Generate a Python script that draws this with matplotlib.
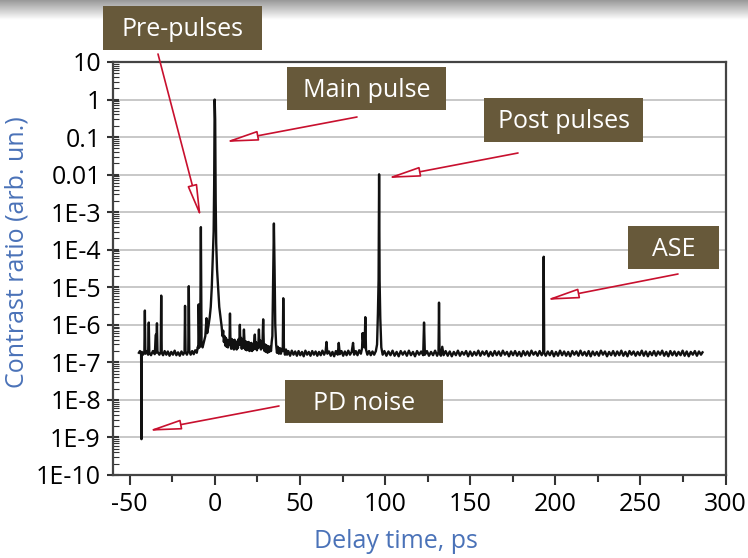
import numpy as np
import matplotlib.pyplot as plt
from matplotlib.patches import Rectangle
from matplotlib.ticker import LogLocator, MultipleLocator, NullFormatter

plt.rcParams['font.family'] = ['Open Sans', 'DejaVu Sans']
plt.rcParams['axes.unicode_minus'] = False

# --- donnees (delai en ps, contraste) ---
trace_pre = [
    (-44.6, 1.8e-7), (-44.0, 2.0e-7), (-43.3, 1.75e-7), (-43.1, 9e-10), (-42.9, 1.9e-7),
    (-42.2, 1.6e-7), (-41.4, 1.95e-7), (-41.1, 2.4e-6), (-40.8, 1.7e-7), (-40.0, 2.0e-7),
    (-39.2, 1.6e-7), (-38.8, 1.15e-6), (-38.5, 1.85e-7), (-37.5, 1.55e-7), (-36.4, 2.0e-7),
    (-35.3, 1.65e-7), (-34.6, 5.5e-7), (-34.4, 1.8e-7), (-34.0, 1.1e-6), (-33.7, 1.95e-7),
    (-32.6, 1.6e-7), (-31.8, 1.9e-7), (-31.5, 6e-6), (-31.2, 1.8e-7), (-30.4, 1.55e-7),
    (-29.5, 2.0e-7), (-28.5, 1.6e-7), (-27.6, 1.95e-7), (-26.6, 1.5e-7), (-25.6, 1.9e-7),
    (-24.6, 1.6e-7), (-23.6, 2.05e-7), (-22.6, 1.55e-7), (-21.6, 1.85e-7), (-20.6, 1.5e-7),
    (-19.6, 1.95e-7), (-18.6, 1.6e-7), (-17.8, 1.9e-7), (-17.5, 3.2e-6), (-17.2, 1.9e-7),
    (-16.4, 1.6e-7), (-15.6, 2.0e-7), (-15.3, 1.07e-5), (-15.0, 2.0e-7), (-14.2, 1.6e-7),
    (-13.3, 2.0e-7), (-12.4, 1.65e-7), (-11.5, 2.1e-7), (-10.6, 1.8e-7), (-10.0, 2.6e-7),
    (-9.7, 2.4e-7), (-9.5, 3.5e-6), (-9.1, 2.5e-7), (-8.6, 2.8e-7), (-8.2, 4e-4),
    (-7.8, 3.0e-7), (-7.2, 2.5e-7), (-6.4, 3.5e-7), (-5.6, 5e-7),
]

trace_main = [
    (-4.9, 1.5e-6), (-4.5, 6e-7), (-3.8, 9e-7), (-3.0, 1.6e-6), (-2.4, 3e-6),
    (-1.8, 1e-5), (-1.2, 6e-5), (-0.7, 3e-4), (-0.4, 5e-3), (-0.1, 1.0),
    (0.2, 0.3), (0.5, 2e-3), (0.8, 1.5e-4), (1.3, 3e-5), (1.9, 1e-5),
    (2.6, 3e-6), (3.3, 1.6e-6), (4.0, 9e-7), (4.5, 5e-7), (4.9, 7e-7),
    (5.3, 3.5e-7), (5.7, 5e-7), (6.1, 2.8e-7), (6.5, 4.5e-7), (6.9, 2.6e-7),
    (7.3, 4e-7), (7.7, 2.5e-7), (8.1, 3.8e-7), (8.6, 3e-7), (8.9, 2e-6),
    (9.2, 3.2e-7), (9.6, 2.3e-7), (10.0, 4.2e-7), (10.4, 2.4e-7), (10.8, 3.8e-7),
    (11.2, 2.2e-7), (11.6, 4e-7), (12.0, 2.5e-7), (12.4, 3.6e-7), (12.8, 2.2e-7),
    (13.2, 3.5e-7), (13.6, 2.4e-7), (14.0, 4.2e-7), (14.4, 3e-7), (14.7, 1e-6),
    (15.0, 3e-7), (15.4, 4.5e-7), (15.8, 2.3e-7), (16.2, 3.8e-7), (16.6, 2.4e-7),
    (17.1, 7.5e-7), (17.5, 3e-7), (17.9, 2.2e-7), (18.3, 3.6e-7), (18.7, 2.1e-7),
    (19.1, 3.4e-7), (19.5, 2.2e-7), (19.9, 3.5e-7), (20.3, 2.0e-7), (20.7, 3.2e-7),
    (21.1, 2.1e-7), (21.5, 3.3e-7), (21.9, 2.0e-7), (22.3, 3e-7), (22.7, 2.2e-7),
    (23.1, 3.6e-7), (23.5, 5.5e-7), (23.9, 2.3e-7), (24.3, 3.4e-7), (24.7, 2.1e-7),
    (25.1, 3.2e-7), (25.5, 2.4e-7), (25.9, 7.5e-7), (26.3, 2.6e-7), (26.7, 3.8e-7),
    (27.1, 2.2e-7), (27.5, 3.4e-7), (27.9, 2.4e-7), (28.4, 1.4e-6), (28.8, 2.6e-7),
    (29.2, 2.0e-7), (29.6, 3e-7), (30.0, 1.9e-7), (30.5, 2.8e-7), (31.0, 1.8e-7),
    (31.5, 2.7e-7), (32.0, 1.9e-7), (32.5, 2.6e-7), (33.0, 2.0e-7), (33.4, 3.5e-7),
    (33.8, 5e-7), (34.3, 2e-5), (34.7, 5e-4), (35.1, 3e-5), (35.5, 1e-6),
    (36.0, 3e-7), (36.5, 1.8e-7), (37.0, 2.6e-7), (37.6, 1.7e-7), (38.2, 2.4e-7),
    (38.8, 1.7e-7), (39.4, 2.3e-7), (39.9, 2.0e-7), (40.2, 5.1e-6), (40.6, 2.3e-7),
    (41.2, 1.6e-7), (41.8, 2.2e-7), (42.4, 1.6e-7),
]

trace_mid = [
    (43.2, 2.0e-7), (44.2, 1.5e-7), (45.2, 2.05e-7), (46.2, 1.6e-7), (47.2, 1.95e-7),
    (48.2, 1.5e-7), (49.2, 2.0e-7), (50.2, 1.55e-7), (51.2, 1.9e-7), (52.2, 1.45e-7),
    (53.2, 2.05e-7), (54.2, 1.6e-7), (55.2, 1.9e-7), (56.2, 1.5e-7), (57.2, 2.0e-7),
    (58.2, 1.6e-7), (59.2, 1.95e-7), (60.2, 1.5e-7), (61.2, 1.9e-7), (62.2, 1.55e-7),
    (63.2, 2.05e-7), (64.2, 1.6e-7), (65.1, 2.0e-7), (65.6, 3.5e-7), (66.1, 1.7e-7),
    (67.1, 1.95e-7), (68.1, 1.5e-7), (69.1, 1.9e-7), (70.1, 1.45e-7), (71.1, 2.0e-7),
    (72.2, 1.6e-7), (72.8, 3.3e-7), (73.4, 1.65e-7), (74.4, 2.0e-7), (75.4, 1.5e-7),
    (76.4, 1.95e-7), (77.4, 1.55e-7), (78.4, 2.05e-7), (79.4, 1.6e-7), (80.4, 1.9e-7),
    (81.2, 3.3e-7), (81.8, 1.6e-7), (82.8, 2.0e-7), (83.8, 1.55e-7), (84.8, 2.1e-7),
    (85.8, 1.7e-7), (86.5, 2.4e-7), (86.8, 6e-7), (87.1, 4e-7), (87.6, 6e-7),
    (88.0, 2.5e-7), (88.4, 1.6e-6), (88.8, 2.2e-7), (89.6, 1.6e-7), (90.6, 2.0e-7),
    (91.6, 1.55e-7), (92.6, 1.95e-7), (93.6, 1.6e-7), (94.6, 2.0e-7), (95.3, 3e-7),
    (95.8, 2e-6), (96.2, 1.6e-5), (96.5, 1.02e-2), (96.8, 1.5e-5), (97.2, 1.5e-6),
    (97.8, 2.5e-7), (98.6, 1.6e-7),
]

trace_tail = [
    (99.6, 2.0e-7), (100.8, 1.5e-7), (102.0, 1.95e-7), (103.2, 1.55e-7), (104.4, 2.05e-7),
    (105.6, 1.5e-7), (106.8, 1.9e-7), (108.0, 1.45e-7), (109.2, 2.0e-7), (110.4, 1.6e-7),
    (111.6, 1.95e-7), (112.8, 1.5e-7), (114.0, 2.05e-7), (115.2, 1.55e-7), (116.4, 1.9e-7),
    (117.6, 1.45e-7), (118.8, 2.0e-7), (120.0, 1.6e-7), (121.2, 1.95e-7), (122.4, 1.55e-7),
    (122.9, 1.15e-6), (123.4, 1.6e-7), (124.6, 2.0e-7), (125.8, 1.5e-7), (127.0, 1.9e-7),
    (128.2, 1.55e-7), (129.4, 2.05e-7), (130.6, 1.5e-7), (131.4, 1.9e-7), (131.7, 3.9e-6),
    (132.0, 1.8e-7), (132.8, 1.5e-7), (133.6, 2.6e-7), (134.4, 1.55e-7), (135.6, 2.0e-7),
    (136.8, 1.5e-7), (138.0, 1.95e-7), (139.2, 1.45e-7), (140.4, 1.9e-7), (141.6, 1.55e-7),
    (142.8, 2.05e-7), (144.0, 1.5e-7), (145.2, 1.9e-7), (146.4, 1.6e-7), (147.6, 2.0e-7),
    (148.8, 1.45e-7), (150.0, 1.95e-7), (151.2, 1.5e-7), (152.4, 1.9e-7), (153.6, 1.55e-7),
    (154.8, 2.05e-7), (156.0, 1.5e-7), (157.2, 1.95e-7), (158.4, 1.6e-7), (159.6, 2.0e-7),
    (160.8, 1.45e-7), (162.0, 1.9e-7), (163.2, 1.5e-7), (164.4, 2.0e-7), (165.6, 1.55e-7),
    (166.8, 1.95e-7), (168.0, 1.5e-7), (169.2, 2.05e-7), (170.4, 1.6e-7), (171.6, 1.9e-7),
    (172.8, 1.45e-7), (174.0, 1.95e-7), (175.2, 1.55e-7), (176.4, 2.0e-7), (177.6, 1.5e-7),
    (178.8, 1.9e-7), (180.0, 1.45e-7), (181.2, 2.0e-7), (182.4, 1.55e-7), (183.6, 1.95e-7),
    (184.8, 1.5e-7), (186.0, 2.05e-7), (187.2, 1.6e-7), (188.4, 1.9e-7), (189.6, 1.5e-7),
    (190.8, 2.0e-7), (192.0, 1.55e-7), (192.9, 1.9e-7), (193.2, 6.5e-5), (193.5, 1.8e-7),
    (194.4, 1.5e-7), (195.6, 1.95e-7), (196.8, 1.55e-7), (198.0, 2.0e-7), (199.2, 1.45e-7),
    (200.4, 1.9e-7), (201.6, 1.5e-7), (202.8, 2.05e-7), (204.0, 1.55e-7), (205.2, 1.95e-7),
    (206.4, 1.5e-7), (207.6, 1.9e-7), (208.8, 1.45e-7), (210.0, 2.0e-7), (211.2, 1.6e-7),
    (212.4, 1.95e-7), (213.6, 1.5e-7), (214.8, 2.05e-7), (216.0, 1.55e-7), (217.2, 1.9e-7),
    (218.4, 1.5e-7), (219.6, 2.0e-7), (220.8, 1.45e-7), (222.0, 1.95e-7), (223.2, 1.55e-7),
    (224.4, 1.9e-7), (225.6, 1.5e-7), (226.8, 2.05e-7), (228.0, 1.6e-7), (229.2, 1.95e-7),
    (230.4, 1.45e-7), (231.6, 1.9e-7), (232.8, 1.55e-7), (234.0, 2.0e-7), (235.2, 1.5e-7),
    (236.4, 1.95e-7), (237.6, 1.55e-7), (238.8, 2.05e-7), (240.0, 1.5e-7), (241.2, 1.9e-7),
    (242.4, 1.45e-7), (243.6, 2.0e-7), (244.8, 1.6e-7), (246.0, 1.95e-7), (247.2, 1.5e-7),
    (248.4, 1.9e-7), (249.6, 1.55e-7), (250.8, 2.05e-7), (252.0, 1.5e-7), (253.2, 1.95e-7),
    (254.4, 1.45e-7), (255.6, 1.9e-7), (256.8, 1.55e-7), (258.0, 2.0e-7), (259.2, 1.5e-7),
    (260.4, 1.95e-7), (261.6, 1.6e-7), (262.8, 2.05e-7), (264.0, 1.5e-7), (265.2, 1.9e-7),
    (266.4, 1.45e-7), (267.6, 2.0e-7), (268.8, 1.55e-7), (270.0, 1.95e-7), (271.2, 1.5e-7),
    (272.4, 1.9e-7), (273.6, 1.55e-7), (274.8, 2.05e-7), (276.0, 1.5e-7), (277.2, 1.95e-7),
    (278.4, 1.45e-7), (279.6, 1.9e-7), (280.8, 1.6e-7), (282.0, 2.0e-7), (283.2, 1.5e-7),
    (284.4, 1.95e-7), (285.6, 1.6e-7), (286.5, 1.85e-7),
]

x_ticks = [-50, 0, 50, 100, 150, 200, 250, 300]
x_tick_labels = ['-50', '0', '50', '100', '150', '200', '250', '300']
y_ticks = [1e1, 1e0, 1e-1, 1e-2, 1e-3, 1e-4, 1e-5, 1e-6, 1e-7, 1e-8, 1e-9, 1e-10]
y_tick_labels = ['10', '1', '0.1', '0.01', '1E-3', '1E-4', '1E-5', '1E-6',
                 '1E-7', '1E-8', '1E-9', '1E-10']

# etiquettes : texte, boite (x0, y0, x1, y1 en px depuis le haut), queue de fleche (px), pointe (donnees)
labels = ['Pre-pulses', 'Main pulse', 'Post pulses', 'ASE', 'PD noise']
boites = [(103, 6, 262, 50), (287, 67, 446, 110), (484, 98, 643, 142),
          (628, 226, 719, 269), (285, 380, 443, 423)]
queues = [(158, 54), (357, 117), (518, 153), (678, 274), (279, 406)]
pointes = [(-8.2, 7e-4), (5.9, 0.074), (101.1, 8.1e-3), (194.4, 4.6e-6), (-39.3, 1.5e-9)]

W, H = 748, 558
brun = '#67593a'
rouge = '#c8102e'
bleu = '#4a72b8'

fig = plt.figure(figsize=(W / 100, H / 100), dpi=100)

# ombre grise en haut de l'image
gax = fig.add_axes([0, 1 - 20 / H, 1, 20 / H], zorder=-1)
gax.imshow(np.linspace(0.6, 1.0, 40)[:, None], cmap='gray', vmin=0, vmax=1,
           aspect='auto', extent=[0, 1, 0, 1])
gax.axis('off')

ax = fig.add_axes([112.7 / W, 1 - 475 / H, (725.5 - 112.7) / W, (475 - 62) / H])

trace = trace_pre + trace_main + trace_mid + trace_tail
delay_ps = [p[0] for p in trace]
contrast = [p[1] for p in trace]
ax.semilogy(delay_ps, contrast, color='#111111', lw=1.7)

ax.set_xlim(-60, 300)
ax.set_ylim(1e-10, 10)
ax.set_xticks(x_ticks)
ax.set_xticklabels(x_tick_labels)
ax.xaxis.set_minor_locator(MultipleLocator(25))
ax.set_yticks(y_ticks)
ax.set_yticklabels(y_tick_labels)
ax.yaxis.set_minor_locator(LogLocator(base=10, subs=np.arange(2, 10), numticks=30))
ax.yaxis.set_minor_formatter(NullFormatter())

ax.grid(axis='y', which='major', color='#c8c8c8', lw=1.4)
ax.set_axisbelow(True)
for s in ax.spines.values():
    s.set_color('#444444')
    s.set_linewidth(1.6)

ax.tick_params(axis='y', which='major', direction='inout', length=9, width=1.5,
               color='#333333', labelsize=18, pad=4)
ax.tick_params(axis='y', which='minor', direction='in', length=4, width=0.8, color='#333333')
ax.tick_params(axis='x', which='major', direction='out', length=7, width=1.5,
               color='#333333', labelsize=18, pad=5)
ax.tick_params(axis='x', which='minor', direction='out', length=5, width=1.5, color='#333333')

fig.text(17 / W, 1 - 252 / H, 'Contrast ratio (arb. un.)', rotation=90, color=bleu,
         fontsize=18, ha='center', va='center')
fig.text(396 / W, 1 - 541 / H, 'Delay time, ps', color=bleu, fontsize=18,
         ha='center', va='center')

for lab, (x0, y0, x1, y1), (qx, qy), pt in zip(labels, boites, queues, pointes):
    fig.patches.append(Rectangle((x0 / W, 1 - y1 / H), (x1 - x0) / W, (y1 - y0) / H,
                                 transform=fig.transFigure, fc=brun, ec='none', zorder=5))
    fig.text((x0 + x1) / 2 / W, 1 - ((y0 + y1) / 2 + 2) / H, lab, color='white', fontsize=18,
             ha='center', va='center', zorder=6)
    ax.annotate('', xy=pt, xycoords='data', xytext=(qx, H - qy), textcoords='figure pixels',
                arrowprops=dict(arrowstyle='-|>,head_length=2.0,head_width=0.3',
                                fc='white', ec=rouge, lw=1.2, shrinkA=0, shrinkB=0,
                                mutation_scale=10),
                annotation_clip=False)

fig.savefig('out.png', dpi=100)
